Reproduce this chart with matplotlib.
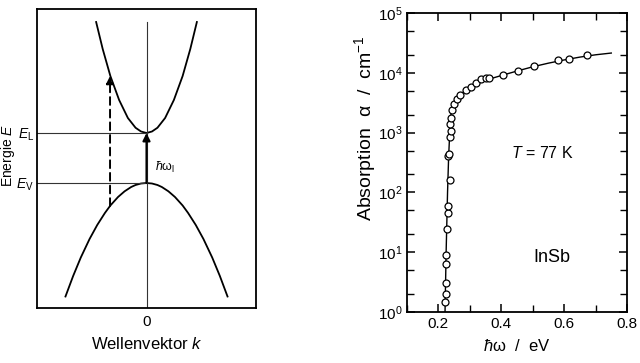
import numpy as np
import matplotlib.pyplot as plt
from matplotlib.ticker import LogLocator, MultipleLocator, NullFormatter

plt.rcParams['font.family'] = ['Liberation Sans', 'DejaVu Sans']
plt.rcParams['mathtext.fontset'] = 'custom'
plt.rcParams['mathtext.rm'] = 'Liberation Sans'
plt.rcParams['mathtext.it'] = 'Liberation Sans:italic'
plt.rcParams['mathtext.bf'] = 'Liberation Sans:bold'

k_leit = [-0.46, -0.40, -0.33, -0.25, -0.17, -0.10, -0.05, 0.0, 0.05, 0.10, 0.17, 0.25, 0.33, 0.40, 0.46]
E_leit = [3.22, 2.68, 2.14, 1.66, 1.30, 1.105, 1.03, 1.0, 1.03, 1.105, 1.30, 1.66, 2.14, 2.68, 3.22]
k_val = [-0.74, -0.67, -0.60, -0.52, -0.45, -0.38, -0.33, -0.26, -0.20, -0.14, -0.10, -0.05, 0.0,
         0.05, 0.10, 0.14, 0.20, 0.26, 0.33, 0.38, 0.45, 0.52, 0.60, 0.67, 0.74]
E_val = [-2.27, -1.86, -1.49, -1.12, -0.84, -0.60, -0.45, -0.28, -0.166, -0.08, -0.04, -0.01, 0.0,
         -0.01, -0.04, -0.08, -0.166, -0.28, -0.45, -0.60, -0.84, -1.12, -1.49, -1.86, -2.27]
E_L, E_V = 1.0, 0.0
k_indirekt = -0.333
E_indirekt_unten, E_indirekt_oben = -0.46, 2.14

# Absorption InSb bei 77 K (Messpunkte)
hw = [0.2216, 0.2227, 0.2237, 0.2237, 0.2248, 0.2269, 0.229, 0.231, 0.2364, 0.231, 0.234,
      0.2354, 0.2385, 0.2364, 0.2385, 0.2417, 0.250, 0.2576, 0.269, 0.288, 0.305, 0.320,
      0.335, 0.350, 0.360, 0.4045, 0.452, 0.503, 0.579, 0.617, 0.674]
alpha = [1.45, 2.0, 3.0, 6.4, 9.0, 24.5, 46, 59, 161, 403, 447,
         835, 1070, 1380, 1780, 2360, 3040, 3650, 4300, 5100, 5800, 6800,
         7800, 8300, 8200, 9200, 10800, 13200, 16300, 17300, 19600]
# Kurve
hw_kurve = [0.221, 0.2245, 0.229, 0.2325, 0.236, 0.240, 0.248, 0.26, 0.28, 0.30, 0.33, 0.36,
            0.40, 0.45, 0.50, 0.55, 0.60, 0.65, 0.70, 0.75]
alpha_kurve = [1.0, 10, 100, 400, 1000, 2000, 3000, 3800, 4800, 5700, 6800, 7800,
               9000, 10700, 12600, 14500, 16400, 18300, 20000, 21400]

fig = plt.figure(figsize=(6.4, 3.63), dpi=100)

# ---- linkes Bild ----
ax1 = fig.add_axes([37/640, 1 - 308/363, 219/640, 299/363])
ax1.set_xlim(-1, 1)
ax1.set_ylim(-2.5, 3.48)
ax1.plot(k_leit, E_leit, color='k', lw=1.3)
ax1.plot(k_val, E_val, color='k', lw=1.3)
ax1.plot([-1, 0], [E_L, E_L], color='#333333', lw=0.8)
ax1.plot([-1, 0], [E_V, E_V], color='#333333', lw=0.8)
ax1.plot([0, 0], [-2.5, max(E_leit)], color='#333333', lw=0.8)
ax1.annotate('', xy=(0, E_L), xytext=(0, E_V),
             arrowprops=dict(arrowstyle='-|>', color='k', lw=1.5, mutation_scale=11,
                             shrinkA=0, shrinkB=0))
ax1.annotate('', xy=(k_indirekt, E_indirekt_oben), xytext=(k_indirekt, E_indirekt_unten),
             arrowprops=dict(arrowstyle='-|>', color='k', lw=1.4, ls=(0, (4, 2.5)),
                             mutation_scale=11, shrinkA=0, shrinkB=0))
ax1.text(0.075, 0.32, '$ħ$ω$_\\mathrm{l}$', fontsize=9, ha='left', va='center')
ax1.set_yticks([E_L, E_V], ['$E_\\mathrm{L}$', '$E_\\mathrm{V}$'])
ax1.set_xticks([0], ['0'])
ax1.tick_params(length=0, labelsize=10)
ax1.tick_params(axis='y', pad=2)
ax1.tick_params(axis='x', pad=5, labelsize=11)
for s in ax1.spines.values():
    s.set_linewidth(1.3)
fig.text(147/640, 1 - 344/363, 'Wellenvektor $k$', fontsize=12, ha='center', va='center')
fig.text(8/640, 1 - 155/363, 'Energie $E$', fontsize=10, ha='center', va='center', rotation=90)

# ---- rechtes Bild ----
ax2 = fig.add_axes([407/640, 1 - 312/363, 220/640, 299/363])
ax2.set_yscale('log')
ax2.set_xlim(0.1, 0.8)
ax2.set_ylim(1, 1e5)
ax2.plot(hw_kurve, alpha_kurve, color='k', lw=1.0)
ax2.plot(hw, alpha, 'o', ms=5, mfc='white', mec='k', mew=0.9)
ax2.xaxis.set_major_locator(MultipleLocator(0.2))
ax2.xaxis.set_minor_locator(MultipleLocator(0.1))
ax2.yaxis.set_major_locator(LogLocator(base=10, numticks=10))
ax2.yaxis.set_minor_locator(LogLocator(base=10, subs=(2, 5), numticks=10))
ax2.yaxis.set_minor_formatter(NullFormatter())
ax2.tick_params(which='both', direction='in', top=True, right=True, labelsize=11)
ax2.tick_params(which='major', length=6, width=1.1)
ax2.tick_params(which='minor', length=5, width=1.0)
for s in ax2.spines.values():
    s.set_linewidth(1.3)
ax2.text(0.43, 450, '$T$ = 77 K', fontsize=11.5, va='center')
ax2.text(0.56, 8, 'InSb', fontsize=13, ha='center', va='center')
fig.text(517/640, 1 - 346/363, '$ħ$ω  /  eV', fontsize=12, ha='center', va='center')
fig.text(365/640, 1 - 128/363, 'Absorption  α  /  cm$^{-1}$', fontsize=14,
         ha='center', va='center', rotation=90)

fig.savefig('out.png', dpi=100)
